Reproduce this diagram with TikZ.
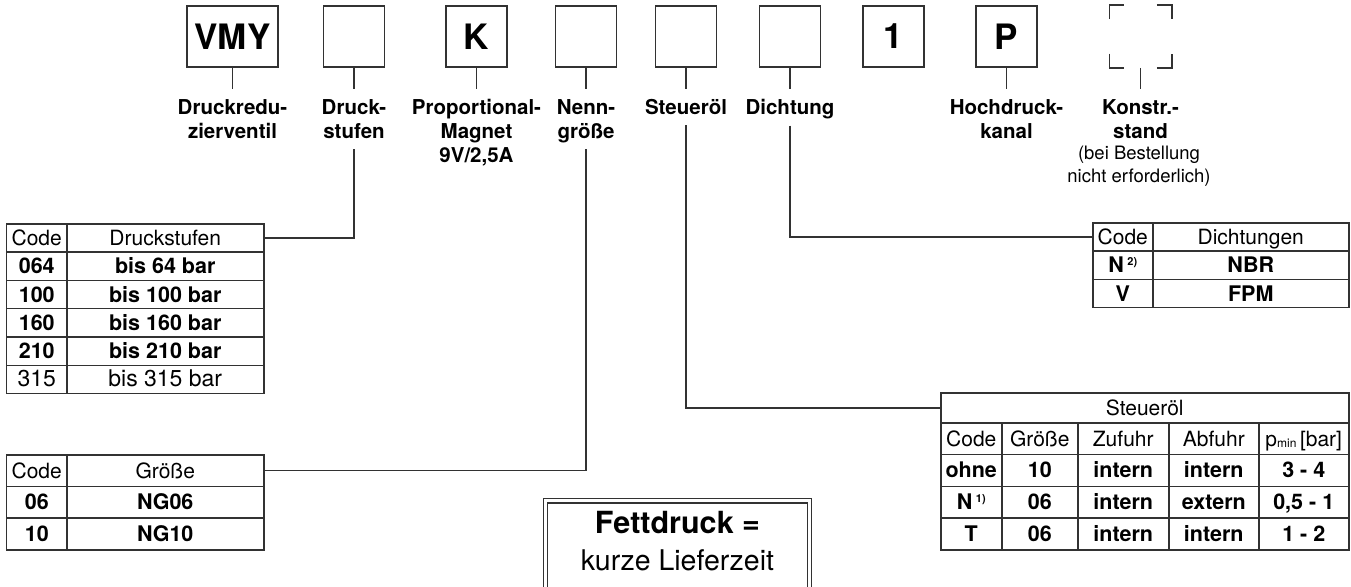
\documentclass[tikz,border=0pt]{standalone}
\usepackage{fontspec}
\setmainfont{TeX Gyre Heros}
\usetikzlibrary{matrix}
\definecolor{ln}{RGB}{50,50,50}
\begin{document}
\begin{tikzpicture}[x=1pt,y=-1pt,line width=1.5pt,
  topbox/.style={draw=ln,line width=1.6pt,minimum width=61pt,minimum height=61pt,inner sep=0pt,font=\bfseries\fontsize{35}{35}\selectfont},
  ghost/.style={minimum width=61pt,minimum height=61pt,inner sep=0pt},
  lbl/.style={anchor=north,align=center,inner xsep=0pt,inner ysep=10pt,text depth=0pt,font=\bfseries\fontsize{20.5}{24}\selectfont},
  note/.style={anchor=base,inner sep=0pt,font=\fontsize{18.5}{22}\selectfont},
  cell/.style={draw=ln,inner sep=0pt,text height=17pt,text depth=2pt,anchor=center,font=\fontsize{21}{21}\selectfont},
  cellb/.style={font=\fontsize{21.5}{21}\selectfont\bfseries},
  cellr/.style={font=\fontsize{23}{21}\selectfont},
  tbl/.style={matrix of nodes,anchor=north west,inner sep=0pt,outer sep=0pt,column sep=-1.5pt,row sep=-1.5pt},
  conn/.style={draw=ln,line width=1.5pt}
]
\useasboundingbox (0,0) rectangle (1351,586);
\clip (0,0) rectangle (1351,586);

% top code boxes
\node[topbox,minimum width=91pt] (b1) at (232.5,36.5) {VMY};
\node[topbox] (b2) at (354,36.5) {};
\node[topbox] (b3) at (476.5,36.5) {K};
\node[topbox] (b4) at (586,36.5) {};
\node[topbox] (b5) at (686,36.5) {};
\node[topbox] (b6) at (790,36.5) {};
\node[topbox] (b7) at (893.5,36.5) {1};
\node[topbox] (b8) at (1006.5,36.5) {P};
\node[ghost] (b9) at (1140.5,36.5) {};
\draw[conn] (b9.north west) ++(0,14) |- ++(15,-14);
\draw[conn] (b9.north east) ++(-15,0) -| ++(15,14);
\draw[conn] (b9.south west) ++(0,-14) |- ++(15,14);
\draw[conn] (b9.south east) ++(-15,0) -| ++(15,-14);

% labels
\node[lbl] (l1) at ([yshift=-21pt]b1.south) {Druckredu-\\zierventil};
\node[lbl] (l2) at ([yshift=-21pt]b2.south) {Druck-\\stufen};
\node[lbl] (l3) at ([yshift=-21pt]b3.south) {Proportional-\\Magnet\\9V/2,5A};
\node[lbl] (l4) at ([yshift=-21pt]b4.south) {Nenn-\\größe};
\node[lbl] (l5) at ([yshift=-21pt]b5.south) {Steueröl};
\node[lbl] (l6) at ([yshift=-21pt]b6.south) {Dichtung};
\node[lbl] (l8) at ([yshift=-21pt]b8.south) {Hochdruck-\\kanal};
\node[lbl] (l9) at ([yshift=-21pt]b9.south) {Konstr.-\\stand};
\node[note] (n9a) at (1139,159) {(bei Bestellung};
\node[note] (n9b) at (1139,182) {nicht erforderlich)};

\foreach \i in {1,2,3,4,5,6,8,9}{\draw[conn] (b\i.south) -- (l\i.north);}

% Druckstufen table
\matrix (T1) [tbl,nodes={cell,minimum height=28.3pt},
  column 1/.style={nodes={minimum width=60pt}},
  column 2/.style={nodes={minimum width=197pt}},
  row 2/.style={nodes={cellb}},row 3/.style={nodes={cellb}},
  row 4/.style={nodes={cellb}},row 5/.style={nodes={cellb}},
  row 6/.style={nodes={cellr}}] at (6,223) {
Code & Druckstufen \\
064 & bis 64 bar \\
100 & bis 100 bar \\
160 & bis 160 bar \\
210 & bis 210 bar \\
315 & bis 315 bar \\
};

% Groesse table
\matrix (T2) [tbl,nodes={cell,minimum height=31.7pt},
  column 1/.style={nodes={minimum width=60pt}},
  column 2/.style={nodes={minimum width=197pt}},
  row 2/.style={nodes={cellb}},row 3/.style={nodes={cellb}}] at (6,454) {
Code & Größe \\
06 & NG06 \\
10 & NG10 \\
};

% Dichtungen table
\matrix (T4) [tbl,nodes={cell,minimum height=28.3pt},
  column 1/.style={nodes={minimum width=60pt}},
  column 2/.style={nodes={minimum width=196pt}},
  row 2/.style={nodes={cellb}},row 3/.style={nodes={cellb}}] at (1092,222) {
Code & Dichtungen \\
N\,{\fontsize{11}{11}\selectfont\raisebox{7pt}{2)}} & NBR \\
V & FPM \\
};

% Steueroel table
\node[cell,minimum width=408pt,minimum height=30pt,anchor=north west] (T3h) at (940,392) {Steueröl};
\matrix (T3) [tbl,nodes={cell,minimum height=31.75pt},
  column 1/.style={nodes={minimum width=61pt}},
  column 2/.style={nodes={minimum width=76pt}},
  column 3/.style={nodes={minimum width=91pt}},
  column 4/.style={nodes={minimum width=90pt}},
  column 5/.style={nodes={minimum width=90pt}},
  row 2/.style={nodes={cellb}},row 3/.style={nodes={cellb}},row 4/.style={nodes={cellb}}]
  at ([yshift=1.5pt]T3h.south west) {
Code & Größe & Zufuhr & Abfuhr & p{\fontsize{12}{12}\selectfont\raisebox{-1pt}{min}}\,[bar] \\
ohne & 10 & intern & intern & 3 - 4 \\
N\,{\fontsize{11}{11}\selectfont\raisebox{7pt}{1)}} & 06 & intern & extern & 0,5 - 1 \\
T & 06 & intern & intern & 1 - 2 \\
};

% connectors to tables
\draw[conn] (l2.south) |- (T1-1-2.east);
\draw[conn] (l4.south) |- (T2-1-2.east);
\draw[conn] (l5.south) |- (T3h.west);
\draw[conn] (l6.south) |- (T4-1-1.west);

% Fettdruck box
\node[draw=ln,double,double distance=3.5pt,line width=1.2pt,minimum width=264pt,minimum height=100pt,anchor=north,inner sep=0pt] (fd) at (677.5,500) {};
\node[anchor=base,inner sep=0pt,font=\bfseries\fontsize{30.5}{30}\selectfont] (fd1) at (677.5,533) {Fettdruck =};
\node[anchor=base,inner sep=0pt,font=\fontsize{28.5}{30}\selectfont] (fd2) at (677.5,570) {kurze Lieferzeit};
\end{tikzpicture}
\end{document}
